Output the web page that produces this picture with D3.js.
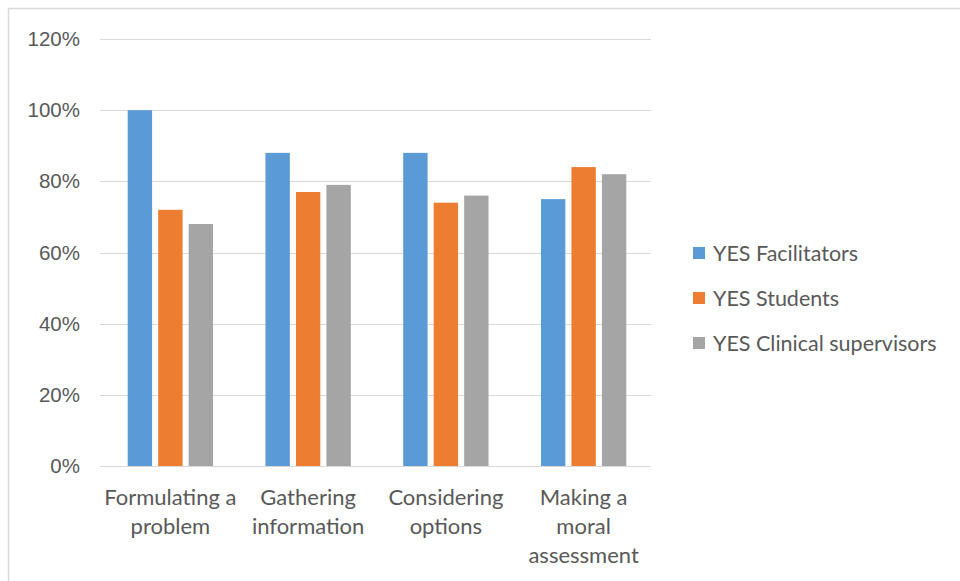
<!DOCTYPE html>
<html lang='en'>
<head>
    <meta charset='UTF-8'>
    <title>Grouped Bar Chart</title>
    <script src='https://cdn.jsdelivr.net/npm/d3@7/dist/d3.min.js'></script>
    <style>
        body { margin: 0; background: #fff; font-family: Lato, 'Open Sans', sans-serif; }
        .tick text { fill: #595959; font-size: 20.5px; }
        .grid line { stroke: #d9d9d9; stroke-width: 1; shape-rendering: crispEdges; }
        .grid path { stroke-width: 0; }
        .legend text { fill: #595959; font-size: 21.5px; }
        .cat text { fill: #595959; font-size: 22px; }
    </style>
</head>
<body>
<script>
    // Data
    const categories = [['Formulating a', 'problem'], ['Gathering', 'information'], ['Considering', 'options'], ['Making a', 'moral', 'assessment']];
    const seriesNames = ['YES Facilitators', 'YES Students', 'YES Clinical supervisors'];
    const facilitators = [100, 88, 88, 75];
    const students = [72, 77, 74, 84];
    const supervisors = [68, 79, 76, 82];
    const yTicks = [0, 20, 40, 60, 80, 100, 120];
    const colors = ['#5b9bd5', '#ed7d31', '#a5a5a5'];

    const seriesValues = [facilitators, students, supervisors];

    const width = 960, height = 581;
    const plot = { left: 100, right: 651, top: 39, bottom: 466 };

    const svg = d3.select('body').append('svg')
        .attr('width', width)
        .attr('height', height);

    svg.append('rect')
        .attr('x', 8.5).attr('y', 8.5)
        .attr('width', 1000).attr('height', 1000)
        .attr('fill', '#fff')
        .attr('stroke', '#d9d9d9')
        .attr('stroke-width', 1.5);

    const x0 = d3.scaleBand()
        .domain(d3.range(categories.length))
        .range([plot.left, plot.right]);

    const x1 = d3.scaleBand()
        .domain(d3.range(seriesNames.length))
        .range([0, x0.bandwidth()])
        .paddingInner(0.2)
        .paddingOuter(0.86);

    const y = d3.scaleLinear()
        .domain([0, 120])
        .range([plot.bottom, plot.top]);

    // grid
    svg.append('g')
        .attr('class', 'grid')
        .attr('transform', `translate(${plot.left}, 0)`)
        .call(d3.axisLeft(y).tickValues(yTicks).tickSize(-(plot.right - plot.left)).tickFormat(''));

    // y labels
    svg.append('g')
        .attr('transform', `translate(${plot.left}, 0)`)
        .call(d3.axisLeft(y).tickValues(yTicks).tickSize(0).tickPadding(20).tickFormat(d => d + '%'))
        .call(g => g.select('.domain').remove());

    // bars
    seriesValues.forEach((vals, s) => {
        svg.append('g')
            .selectAll('rect')
            .data(vals)
            .enter().append('rect')
            .attr('x', (d, i) => x0(i) + x1(s) + 1.5)
            .attr('y', d => y(d))
            .attr('width', x1.bandwidth())
            .attr('height', d => y(0) - y(d))
            .attr('fill', colors[s]);
    });

    // category labels
    const cat = svg.append('g').attr('class', 'cat');
    categories.forEach((lines, i) => {
        const cx = x0(i) + x0.bandwidth() / 2 + 1.5;
        const t = cat.append('text')
            .attr('text-anchor', 'middle')
            .attr('x', cx)
            .attr('y', 505);
        lines.forEach((l, k) => {
            t.append('tspan')
                .attr('x', cx)
                .attr('dy', k === 0 ? 0 : 29)
                .text(l);
        });
    });

    // legend
    const legend = svg.append('g').attr('class', 'legend');
    seriesNames.forEach((name, i) => {
        const ly = 253 + i * 45;
        legend.append('rect')
            .attr('x', 693).attr('y', ly - 6)
            .attr('width', 12).attr('height', 12)
            .attr('fill', colors[i]);
        legend.append('text')
            .attr('x', 713).attr('y', ly)
            .attr('dy', '0.35em')
            .text(name);
    });
</script>
</body>
</html>
